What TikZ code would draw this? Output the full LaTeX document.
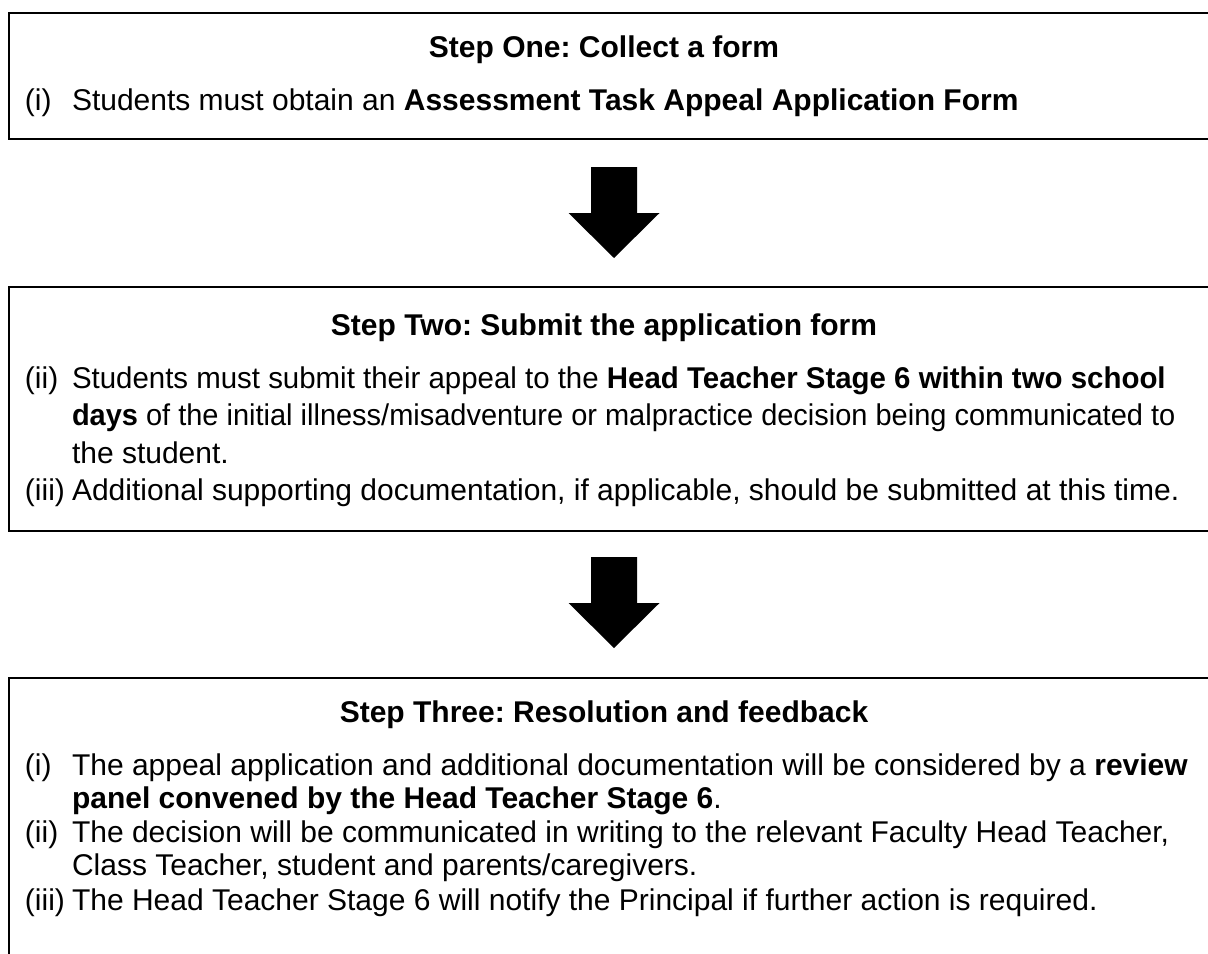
\documentclass[tikz,border=0pt]{standalone}
\usepackage{fontspec}
\usepackage{graphicx}
\setmainfont{Liberation Sans}
\frenchspacing
\begin{document}
\begin{tikzpicture}[x=0.5pt,y=-0.5pt,
  every node/.style={inner sep=0pt, outer sep=0pt},
  txt/.style={anchor=base west, font=\fontsize{15}{17}\selectfont},
  ttl/.style={anchor=base, font=\fontsize{15}{17}\selectfont\bfseries},
  boxframe/.style={draw, line width=1.25pt, anchor=north west, minimum width=610.5pt},
  downarrow/.pic={\fill[black] (-23,0) -- (23,0) -- (23,46) -- (45.5,46) -- (0,91) -- (-45.5,46) -- (-23,46) -- cycle;}
]
\clip (0,0) rectangle (1208,953);
\fill[white] (0,0) rectangle (1208,953);

% boxes
\node[boxframe, minimum height=63pt]  (box1) at (9,13) {};
\node[boxframe, minimum height=122pt] (box2) at (9,287) {};
\node[boxframe, minimum height=160pt] (box3) at (9,678) {};

% arrows
\pic at (614,167) {downarrow};
\pic at (614,557) {downarrow};

% box 1
\node[ttl] (t1) at (604,57) {Step One: Collect a form};
\node[txt] (l1a) at (25,110) {(i)};
\node[txt] (l1b) at (72,110) {Students must obtain an \textbf{Assessment Task Appeal Application Form}};

% box 2
\node[ttl] (t2) at (604,335) {Step Two: Submit the application form};
\node[txt] (l2a) at (25,388) {(ii)};
\node[txt] (l2b) at (72,388) {\scalebox{0.981}[1]{Students must submit their appeal to the \textbf{Head Teacher Stage 6 within two school}}};
\node[txt] (l2c) at (72,425) {\scalebox{0.966}[1]{\textbf{days} of the initial illness/misadventure or malpractice decision being communicated to}};
\node[txt] (l2d) at (72,463) {the student.};
\node[txt] (l2e) at (25,500) {(iii)};
\node[txt] (l2f) at (72,500) {Additional supporting documentation, if applicable, should be submitted at this time.};

% box 3
\node[ttl] (t3) at (604,722) {Step Three: Resolution and feedback};
\node[txt] (l3a) at (25,775) {(i)};
\node[txt] (l3b) at (72,775) {The appeal application and additional documentation will be considered by a \textbf{review}};
\node[txt] (l3c) at (72,808) {\textbf{panel convened by the Head Teacher Stage 6}.};
\node[txt] (l3d) at (25,842) {(ii)};
\node[txt] (l3e) at (72,842) {The decision will be communicated in writing to the relevant Faculty Head Teacher,};
\node[txt] (l3f) at (72,875) {Class Teacher, student and parents/caregivers.};
\node[txt] (l3g) at (25,910) {(iii)};
\node[txt] (l3h) at (72,910) {The Head Teacher Stage 6 will notify the Principal if further action is required.};
\end{tikzpicture}
\end{document}
